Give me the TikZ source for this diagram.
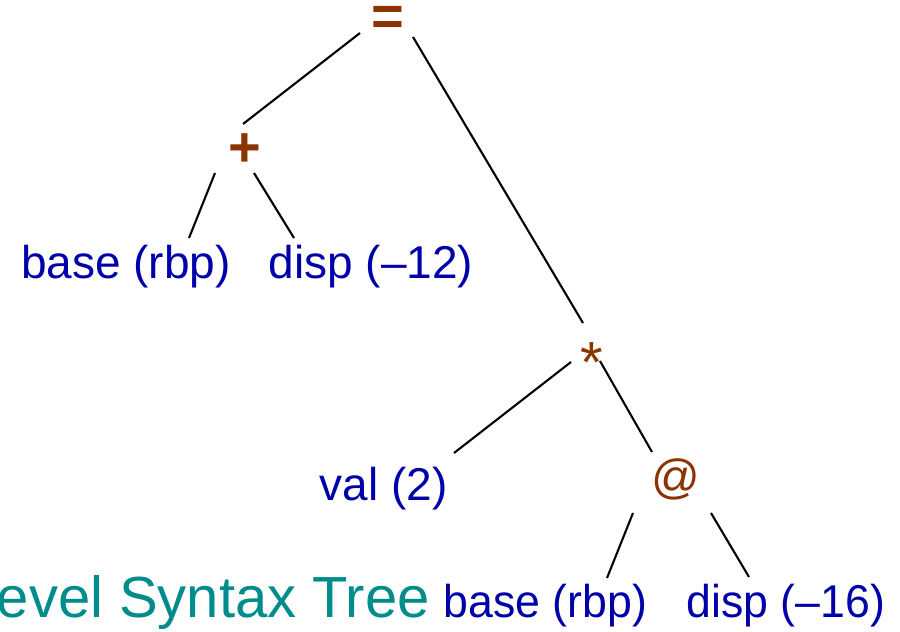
\documentclass[tikz,border=0pt]{standalone}
\usepackage{fontspec}
\setmainfont{Liberation Sans}
\definecolor{opbrown}{RGB}{140,52,0}
\definecolor{leafblue}{RGB}{0,0,170}
\definecolor{titleteal}{RGB}{0,140,140}
\begin{document}
\begin{tikzpicture}[x=1pt,y=-1pt,
  opnode/.style={inner sep=0pt,anchor=base,text=opbrown,font=\fontsize{58}{60}\selectfont},
  opbold/.style={opnode,font=\fontsize{56}{60}\selectfont\bfseries},
  leaf/.style={inner sep=0pt,anchor=base,text=leafblue,font=\fontsize{46}{50}\selectfont},
  leafb/.style={leaf,xscale=0.97},
  edge/.style={draw=black,line width=2.1pt}]
\useasboundingbox (0,0) rectangle (900,632);
% operators
\node[opbold] (eq) at (388,35) {=};
\node[opbold] (plus) at (245,166) {+};
\node[opnode] (times) at (591.5,382) {*};
\node[opnode,font=\fontsize{48}{50}\selectfont] (atn) at (675.5,493) {@};
% leaves
\node[leaf] (base1) at (126,278) {base (rbp)};
\node[leaf] (disp1) at (371,278) {disp (\textendash12)};
\node[leaf] (val) at (383.5,500) {val (2)};
\node[leafb] (base2) at (545.5,617) {base (rbp)};
\node[leafb] (disp2) at (786,617) {disp (\textendash16)};
% title
\node[inner sep=0pt,anchor=base east,text=titleteal,font=\fontsize{58}{60}\selectfont] (title) at (430,617) {evel Syntax Tree};
% edges
\draw[edge] ([shift={(-28,-2)}]eq.base) -- ([shift={(-2,-42)}]plus.base);
\draw[edge] ([shift={(25,2)}]eq.base) -- ([shift={(-8.5,-59)}]times.base);
\draw[edge] ([shift={(-30,7)}]plus.base) -- ([shift={(63,-40)}]base1.base);
\draw[edge] ([shift={(9,7)}]plus.base) -- ([shift={(-77,-40)}]disp1.base);
\draw[edge] ([shift={(-20.5,-20)}]times.base) -- ([shift={(70.5,-47)}]val.base);
\draw[edge] ([shift={(8.5,-21)}]times.base) -- ([shift={(-23.5,-41)}]atn.base);
\draw[edge] ([shift={(-42.5,20)}]atn.base) -- ([shift={(61.5,-39)}]base2.base);
\draw[edge] ([shift={(35.5,20)}]atn.base) -- ([shift={(-37,-40)}]disp2.base);
\end{tikzpicture}
\end{document}
